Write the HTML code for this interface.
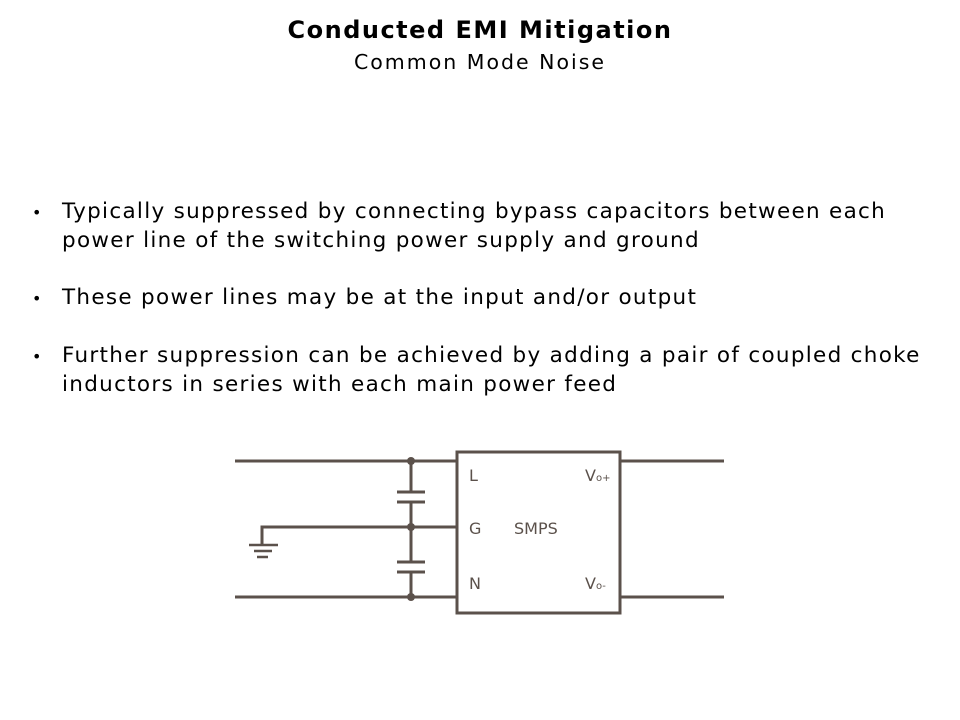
<!DOCTYPE html>
<html><head><style>
body{margin:0;width:960px;height:720px;background:#fff;font-family:"DejaVu Sans",sans-serif;color:#000;position:relative;overflow:hidden}
.t{position:absolute;left:0;width:960px;text-align:center}
.b{position:absolute;left:62px;font-size:21.5px;line-height:29px;white-space:nowrap;letter-spacing:1.3px}
.d{position:absolute;left:32px;font-size:16px}
</style></head><body>
<div class="t" style="top:16px;font-size:24px;font-weight:bold;letter-spacing:1.5px">Conducted EMI Mitigation</div>
<div class="t" style="top:50px;font-size:20.5px;letter-spacing:2px">Common Mode Noise</div>
<div class="d" style="top:203px">•</div>
<div class="b" style="top:197px">Typically suppressed by connecting bypass capacitors between each<br>power line of the switching power supply and ground</div>
<div class="d" style="top:289px">•</div>
<div class="b" style="top:283px">These power lines may be at the input and/or output</div>
<div class="d" style="top:347px">•</div>
<div class="b" style="top:341px">Further suppression can be achieved by adding a pair of coupled choke<br>inductors in series with each main power feed</div>
<svg width="960" height="720" style="position:absolute;left:0;top:0" fill="none" stroke="#5b514b" stroke-width="3">
<path d="M235 461H457M235 597H457M620 461H724M620 597H724M262 546V527H457"/>
<rect x="457" y="452" width="163" height="161"/>
<path d="M411 461V492M411 502V562M411 572V597"/>
<path d="M397 492H425M397 502H425M397 562H425M397 572H425"/>
<path d="M249 545H278M254 551H272M257 557H268" stroke-width="2.5"/>
<circle cx="411" cy="461" r="4" fill="#5b514b" stroke="none"/>
<circle cx="411" cy="527" r="4" fill="#5b514b" stroke="none"/>
<circle cx="411" cy="597" r="4" fill="#5b514b" stroke="none"/>
<g fill="#5b514b" stroke="none" font-family="DejaVu Sans,sans-serif" font-size="16">
<text x="469" y="481">L</text><text x="469" y="534">G</text><text x="469" y="589">N</text>
<text x="514" y="534">SMPS</text>
<text x="585" y="481">V<tspan font-size="10">o+</tspan></text>
<text x="585" y="589">V<tspan font-size="10">o-</tspan></text>
</g>
</svg>
</body></html>
